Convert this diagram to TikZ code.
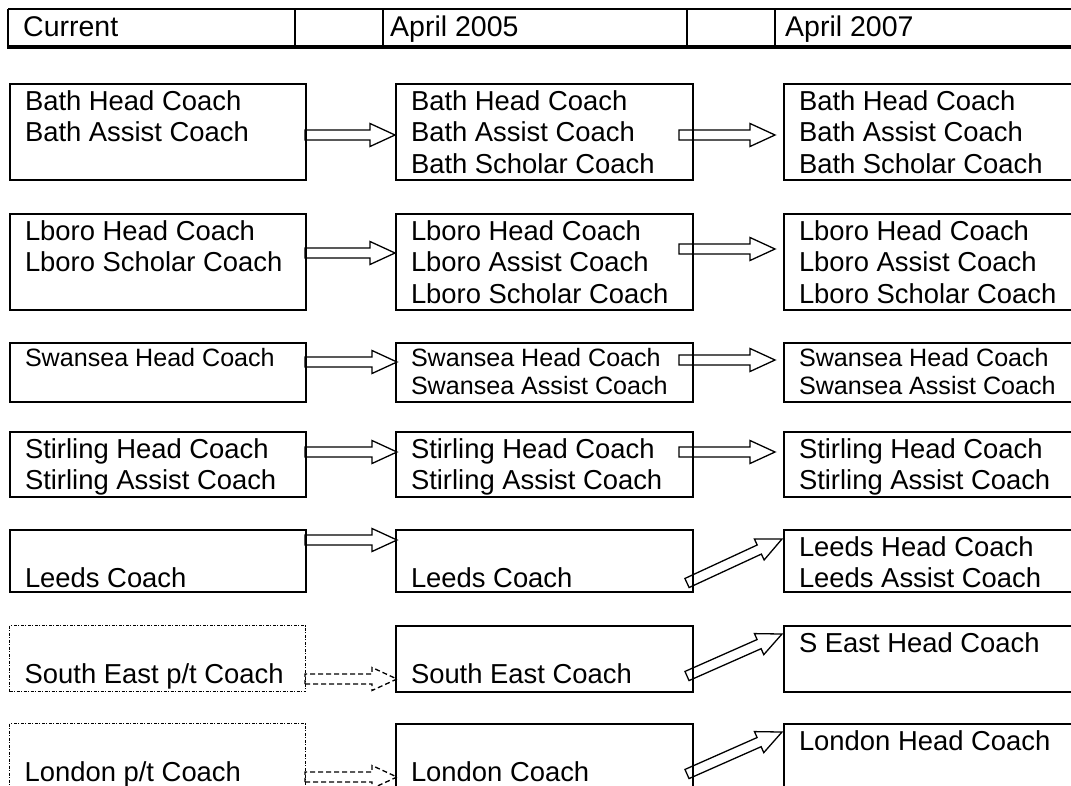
\documentclass[tikz,border=0pt]{standalone}
\usepackage{fontspec}
\setmainfont{Liberation Sans}
\newcommand\bt[3]{\parbox[c][#2pt][t]{#1pt}{\raggedright\rule{0pt}{26pt}#3}}
\newcommand\bs[3]{\parbox[c][#2pt][t]{#1pt}{\raggedright\rule{0pt}{23pt}#3}}
\newcommand\blockarr[3][]{%
  \pgfmathanglebetweenpoints{\pgfpointanchor{#2}{center}}{\pgfpointanchor{#3}{center}}%
  \let\barang\pgfmathresult
  \pgfpointdiff{\pgfpointanchor{#2}{center}}{\pgfpointanchor{#3}{center}}%
  \pgfgetlastxy{\barx}{\bary}%
  \pgfmathsetmacro\barlen{veclen(\barx,\bary)}%
  \begin{scope}[shift={(#2)},rotate=\barang]
    \draw[blockarrow,#1] (0,5) -- (\barlen-25,5) -- (\barlen-25,11.5) -- (\barlen,0)
      -- (\barlen-25,-11.5) -- (\barlen-25,-5) -- (0,-5) -- cycle;
  \end{scope}}
\begin{document}
\begin{tikzpicture}[x=1pt,y=-1pt,
  big/.style={font=\fontsize{27.4pt}{31.5pt}\selectfont},
  small/.style={font=\fontsize{25.1pt}{28.9pt}\selectfont},
  box/.style={draw, line width=2pt, anchor=north west, inner ysep=0pt, inner xsep=15pt, big},
  dotbox/.style={box, line width=1.3pt, dash pattern=on 3pt off 1.5pt on 1pt off 1.5pt},
  htext/.style={anchor=base west, inner sep=0pt, font=\fontsize{28.5pt}{32pt}\selectfont},
  blockarrow/.style={draw, line width=1.3pt, line join=miter, fill=white},
  dasharrow/.style={dash pattern=on 5pt off 3pt, fill=none},
]
\useasboundingbox (0,0) rectangle (1071,785);
\clip (0,0) rectangle (1071,785);
% header
\draw[line width=2pt] (8,9) -- (1071,9);
\draw[line width=4pt] (7,47) -- (1071,47);
\foreach \hx in {8,295,383,687,775} \draw[line width=2pt] (\hx,9) -- (\hx,47);
\node[htext] (h1) at (23,36) {Current};
\node[htext] (h2) at (390,36) {April 2005};
\node[htext] (h3) at (785,36) {April 2007};
% arrow coordinates
\coordinate (t11) at (305,135); \coordinate (p11) at (395,135);
\coordinate (t12) at (679,135); \coordinate (p12) at (775,135);
\coordinate (t21) at (305,253); \coordinate (p21) at (395,253);
\coordinate (t22) at (679,249); \coordinate (p22) at (775,249);
\coordinate (t31) at (305,362); \coordinate (p31) at (397,362);
\coordinate (t32) at (679,360); \coordinate (p32) at (775,360);
\coordinate (t41) at (305,452); \coordinate (p41) at (397,452);
\coordinate (t42) at (679,452); \coordinate (p42) at (775,452);
\coordinate (t51) at (305,540); \coordinate (p51) at (397,540);
\coordinate (t52) at (687,583); \coordinate (p52) at (782,539);
\coordinate (t61) at (305,679); \coordinate (p61) at (397,679);
\coordinate (t62) at (687,676); \coordinate (p62) at (782,634);
\coordinate (t71) at (305,777); \coordinate (p71) at (397,777);
\coordinate (t72) at (687,774); \coordinate (p72) at (782,732);
% arrows
\blockarr{t11}{p11} \blockarr{t12}{p12}
\blockarr{t21}{p21} \blockarr{t22}{p22}
\blockarr{t31}{p31} \blockarr{t32}{p32}
\blockarr{t41}{p41} \blockarr{t42}{p42}
\blockarr{t51}{p51} \blockarr{t52}{p52}
\blockarr[dasharrow]{t61}{p61} \blockarr{t62}{p62}
\blockarr[dasharrow]{t71}{p71} \blockarr{t72}{p72}
% row 1
\node[box] (b11) at (9,83)   {\bt{266}{96}{Bath Head Coach\\Bath Assist Coach}};
\node[box] (b12) at (395,83) {\bt{267}{96}{Bath Head Coach\\Bath Assist Coach\\Bath Scholar Coach}};
\node[box] (b13) at (783,83) {\bt{270}{96}{Bath Head Coach\\Bath Assist Coach\\Bath Scholar Coach}};
% row 2
\node[box] (b21) at (9,213)   {\bt{266}{96}{Lboro Head Coach\\Lboro Scholar Coach}};
\node[box] (b22) at (395,213) {\bt{267}{96}{Lboro Head Coach\\Lboro Assist Coach\\Lboro Scholar Coach}};
\node[box] (b23) at (783,213) {\bt{270}{96}{Lboro Head Coach\\Lboro Assist Coach\\Lboro Scholar Coach}};
% row 3
\node[box,small] (b31) at (9,342)   {\bs{266}{59}{Swansea Head Coach}};
\node[box,small] (b32) at (395,342) {\bs{267}{59}{Swansea Head Coach\\Swansea Assist Coach}};
\node[box,small] (b33) at (783,342) {\bs{270}{59}{Swansea Head Coach\\Swansea Assist Coach}};
% row 4
\node[box] (b41) at (9,431)   {\bt{266}{65}{Stirling Head Coach\\Stirling Assist Coach}};
\node[box] (b42) at (395,431) {\bt{267}{65}{Stirling Head Coach\\Stirling Assist Coach}};
\node[box] (b43) at (783,431) {\bt{270}{65}{Stirling Head Coach\\Stirling Assist Coach}};
% row 5
\node[box] (b51) at (9,529)   {\bt{266}{62}{\mbox{}\\Leeds Coach}};
\node[box] (b52) at (395,529) {\bt{267}{62}{\mbox{}\\Leeds Coach}};
\node[box] (b53) at (783,529) {\bt{270}{62}{Leeds Head Coach\\Leeds Assist Coach}};
% row 6
\node[dotbox] (b61) at (9,625)   {\bt{266}{66}{\mbox{}\\South East p/t Coach}};
\node[box] (b62) at (395,625) {\bt{267}{66}{\mbox{}\\South East Coach}};
\node[box] (b63) at (783,625) {\bt{270}{66}{S East Head Coach}};
% row 7
\node[dotbox] (b71) at (9,723)   {\bt{266}{66}{\mbox{}\\London p/t Coach}};
\node[box] (b72) at (395,723) {\bt{267}{66}{\mbox{}\\London Coach}};
\node[box] (b73) at (783,723) {\bt{270}{66}{London Head Coach}};
\end{tikzpicture}
\end{document}
